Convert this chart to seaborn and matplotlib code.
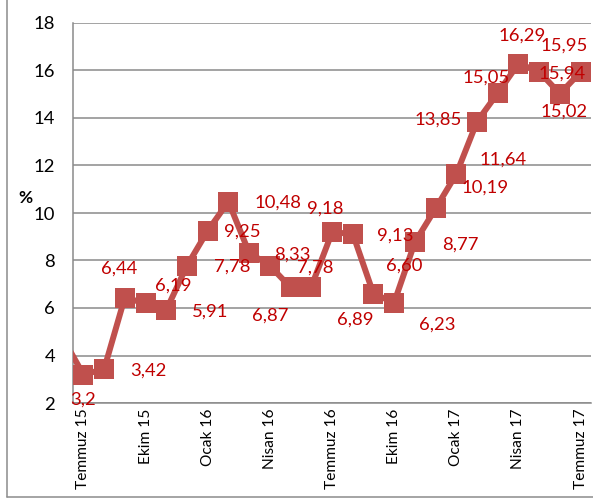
import matplotlib
matplotlib.use('Agg')
import matplotlib.pyplot as plt
import seaborn as sns
import pandas as pd
import numpy as np
from matplotlib.lines import Line2D

# ---- data ----
months = ['Haziran 15', 'Temmuz 15', 'Ağustos 15', 'Eylül 15', 'Ekim 15', 'Kasım 15',
          'Aralık 15', 'Ocak 16', 'Şubat 16', 'Mart 16', 'Nisan 16', 'Mayıs 16',
          'Haziran 16', 'Temmuz 16', 'Ağustos 16', 'Eylül 16', 'Ekim 16', 'Kasım 16',
          'Aralık 16', 'Ocak 17', 'Şubat 17', 'Mart 17', 'Nisan 17', 'Mayıs 17',
          'Haziran 17', 'Temmuz 17']
values = [4.75, 3.2, 3.42, 6.44, 6.19, 5.91, 7.78, 9.25, 10.48, 8.33, 7.78, 6.87,
          6.89, 9.18, 9.13, 6.60, 6.23, 8.77, 10.19, 11.64, 13.85, 15.05, 16.29,
          15.95, 15.02, 15.94]
value_texts = ['3,2', '3,42', '6,44', '6,19', '5,91', '7,78', '9,25', '10,48', '8,33',
               '7,78', '6,87', '6,89', '9,18', '9,13', '6,60', '6,23', '8,77', '10,19',
               '11,64', '13,85', '15,05', '16,29', '15,95', '15,02', '15,94']
shown_labels = ['Temmuz 15', 'Ekim 15', 'Ocak 16', 'Nisan 16', 'Temmuz 16',
                'Ekim 16', 'Ocak 17', 'Nisan 17', 'Temmuz 17']
y_ticks = [2, 4, 6, 8, 10, 12, 14, 16, 18]
y_title = '%'

# label offsets in pixels (dx right, dy down) for visible points
label_offsets = [(0, 25), (44, 1), (-6, -29), (28, -18), (44, 1), (45, 1), (35, 1),
                 (50, 1), (43, 2), (45, 2), (-20, 28), (44, 33), (-7, -24), (43, 2),
                 (31, -28), (43, 22), (45, 2), (50, -21), (47, -14), (-39, -2),
                 (-12, -15), (4, -28), (25, -26), (4, 18), (-19, 2)]

LINE_COLOR = '#C0504D'
TEXT_COLOR = '#C00000'
GRID_COLOR = '#8A8A8A'
FONT = ['Lato', 'DejaVu Sans']

sns.set_style('white')
plt.rcParams['font.family'] = FONT

df = pd.DataFrame({'pos': np.arange(len(months)) - 1, 'month': months, 'value': values})

W, H = 593, 498
fig = plt.figure(figsize=(W / 100, H / 100), dpi=100)
ax = fig.add_axes([73 / W, 1 - 403 / H, (591 - 73) / W, (403 - 23) / H])

sns.lineplot(data=df, x='pos', y='value', ax=ax, color=LINE_COLOR, linewidth=4.3,
             marker='s', markersize=14.4, markeredgewidth=0, markerfacecolor=LINE_COLOR,
             zorder=3)

ax.set_xlim(-0.5, 24.5)
ax.set_ylim(2, 18)
ax.set_yticks(y_ticks)
ax.set_yticklabels([str(t) for t in y_ticks])
ax.yaxis.grid(True, color=GRID_COLOR, linewidth=1.1)
ax.set_axisbelow(True)
ax.set_xlabel('')
ax.set_ylabel('')

# category centers for labels, boundaries for tick marks
vis = df[df['pos'] >= 0]
lab_pos = [int(df.loc[df['month'] == m, 'pos'].iloc[0]) for m in shown_labels]
ax.set_xticks(lab_pos)
ax.set_xticklabels(shown_labels, rotation=90, fontsize=11.2, va='top', ha='center')
ax.set_xticks([p - 0.5 for p in lab_pos], minor=True)
ax.tick_params(axis='x', which='major', length=0, pad=4, colors='black')
ax.tick_params(axis='x', which='minor', length=6, width=1.1, color=GRID_COLOR)
ax.tick_params(axis='y', which='major', length=6, width=1.1, color=GRID_COLOR,
               labelsize=13.3, pad=7, labelcolor='black')

for s in ['top', 'right']:
    ax.spines[s].set_visible(False)
for s in ['left', 'bottom']:
    ax.spines[s].set_color(GRID_COLOR)
    ax.spines[s].set_linewidth(1.1)

# data labels
for (p, v), txt, (dx, dy) in zip(zip(vis['pos'], vis['value']), value_texts, label_offsets):
    ax.annotate(txt, xy=(p, v), xytext=(dx, -dy), textcoords='offset pixels',
                ha='center', va='center', color=TEXT_COLOR, fontsize=13.3,
                zorder=5, annotation_clip=False)

fig.text(25 / W, 1 - 198 / H, y_title, ha='center', va='center', fontsize=12.5,
         fontweight='bold', color='black')

# outer chart border (cropped)
fig.add_artist(Line2D([7 / W, 7 / W], [1 - 497 / H, 1.0], transform=fig.transFigure,
                      color='#8C8C8C', linewidth=1.1))
fig.add_artist(Line2D([7 / W, 1.0], [1 - 497 / H, 1 - 497 / H], transform=fig.transFigure,
                      color='#8C8C8C', linewidth=1.1))

fig.savefig('out.png', dpi=100)
